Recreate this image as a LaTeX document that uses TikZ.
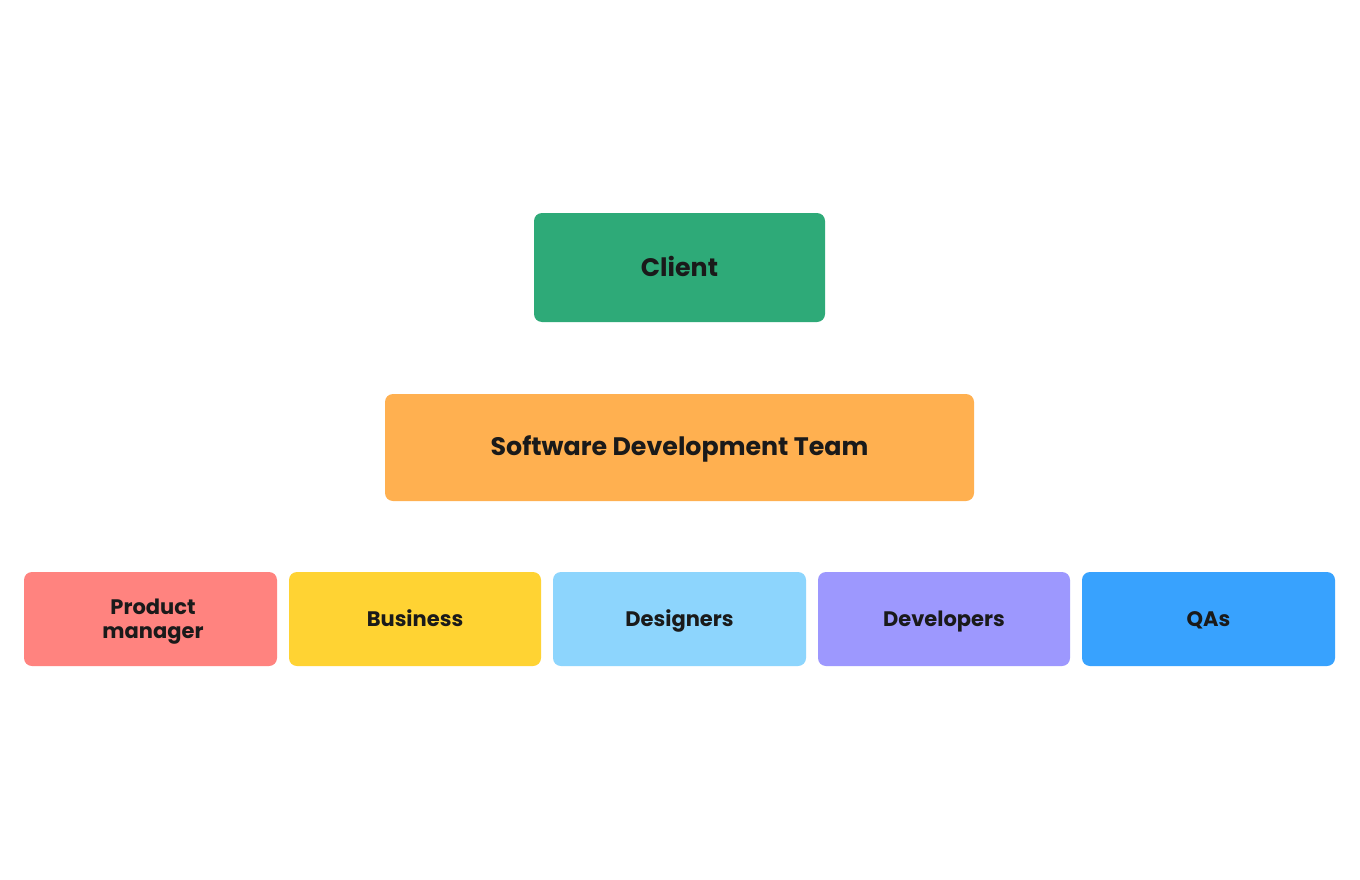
\documentclass[tikz,border=0pt]{standalone}
\usepackage{fontspec}
\setmainfont{Poppins}
\definecolor{cgreen}{HTML}{2EAA78}
\definecolor{corange}{HTML}{FFB050}
\definecolor{cred}{HTML}{FF837F}
\definecolor{cyellow}{HTML}{FFD333}
\definecolor{clblue}{HTML}{8DD5FD}
\definecolor{cviolet}{HTML}{9D98FE}
\definecolor{cblue}{HTML}{38A2FE}
\definecolor{ctext}{HTML}{1A1A1A}
\begin{document}
\begin{tikzpicture}[x=1pt,y=-1pt,
  card/.style={rounded corners=8pt, draw=none},
  lbl/.style={text=ctext, align=center, inner sep=0pt, anchor=base},
  big/.style={lbl, font=\fontsize{25.3}{30}\selectfont\bfseries},
  small/.style={lbl, font=\fontsize{21}{24}\selectfont\bfseries}]
\useasboundingbox (0,0) rectangle (1360,880);
\fill[white] (0,0) rectangle (1360,880);
% top
\fill[card, cgreen] (534,213) rectangle (825,322);
\node[big] (client) at (679.5,276) {Client};
\fill[card, corange] (385,394) rectangle (974,501);
\node[big] (team) at (679.5,455) {Software Development Team};
% bottom row
\fill[card, cred] (24,572) rectangle (277,666);
\node[small] (pm) at (153,638) {Product\\ manager};
\fill[card, cyellow] (289,572) rectangle (541,666);
\node[small] (bus) at (415,626) {Business};
\fill[card, clblue] (553,572) rectangle (806,666);
\node[small] (des) at (679.5,626) {Designers};
\fill[card, cviolet] (818,572) rectangle (1070,666);
\node[small] (dev) at (944,626) {Developers};
\fill[card, cblue] (1082,572) rectangle (1335,666);
\node[small] (qa) at (1208.5,626) {QAs};
\end{tikzpicture}
\end{document}
